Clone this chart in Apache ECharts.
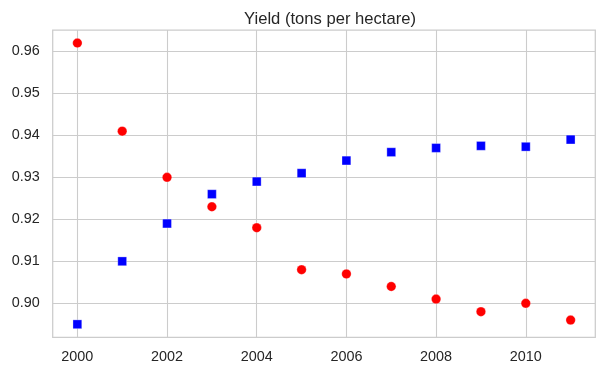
<!DOCTYPE html>
<html>
<head>
<meta charset="utf-8">
<script src="https://cdn.jsdelivr.net/npm/echarts@6/dist/echarts.min.js"></script>
<style>html,body{margin:0;padding:0;background:#fff}#c{width:605px;height:375px}</style>
</head>
<body>
<div id="c"></div>
<script>
const years = [2000,2001,2002,2003,2004,2005,2006,2007,2008,2009,2010,2011];
const redValues = [0.962,0.941,0.930,0.923,0.918,0.908,0.907,0.904,0.901,0.898,0.900,0.896];
const blueValues = [0.895,0.910,0.919,0.926,0.929,0.931,0.934,0.936,0.937,0.9375,0.9373,0.939];
const xTicks = [2000,2002,2004,2006,2008,2010];
const yTicks = [0.90,0.91,0.92,0.93,0.94,0.95,0.96];
const titleText = 'Yield (tons per hectare)';

const font = '"Liberation Sans", Arial, sans-serif';
const chart = echarts.init(document.getElementById('c'), null, {renderer:'canvas'});
chart.setOption({
  animation: false,
  backgroundColor: '#ffffff',
  title: {
    text: titleText, left: 325, top: 6, textAlign: 'center',
    textStyle: {fontFamily: font, fontSize: 16.6, fontWeight: 'normal', color: '#262626'}
  },
  grid: {left: 52.7, right: 9.7, top: 30, bottom: 37.7, show: true, borderColor: '#cccccc', borderWidth: 1.25, backgroundColor: 'transparent'},
  xAxis: {
    type: 'value', min: 1999.45, max: 2011.55,
    axisLine: {show: false},
    axisTick: {show: false, customValues: xTicks},
    axisLabel: {customValues: xTicks, fontFamily: font, fontSize: 14.4, color: '#262626', margin: 13, formatter: v => String(v)},
    splitLine: {show: true, lineStyle: {color: '#cccccc', width: 1.1}}
  },
  yAxis: {
    type: 'value', min: 0.8919, max: 0.9651,
    axisLine: {show: false},
    axisTick: {show: false, customValues: yTicks},
    axisLabel: {customValues: yTicks, fontFamily: font, fontSize: 14.4, color: '#262626', margin: 13, formatter: v => v.toFixed(2)},
    splitLine: {show: true, lineStyle: {color: '#cccccc', width: 1.1}}
  },
  series: [
    {type: 'scatter', symbol: 'circle', symbolSize: 9.5, itemStyle: {color: '#ff0000', borderColor: '#ffffff', borderWidth: 0.3, opacity: 1},
     data: years.map((y, i) => [y, redValues[i]])},
    {type: 'scatter', symbol: 'rect', symbolSize: 8.8, itemStyle: {color: '#0000ff', borderColor: '#ffffff', borderWidth: 0.3, opacity: 1},
     data: years.map((y, i) => [y, blueValues[i]])}
  ]
});
</script>
</body>
</html>
